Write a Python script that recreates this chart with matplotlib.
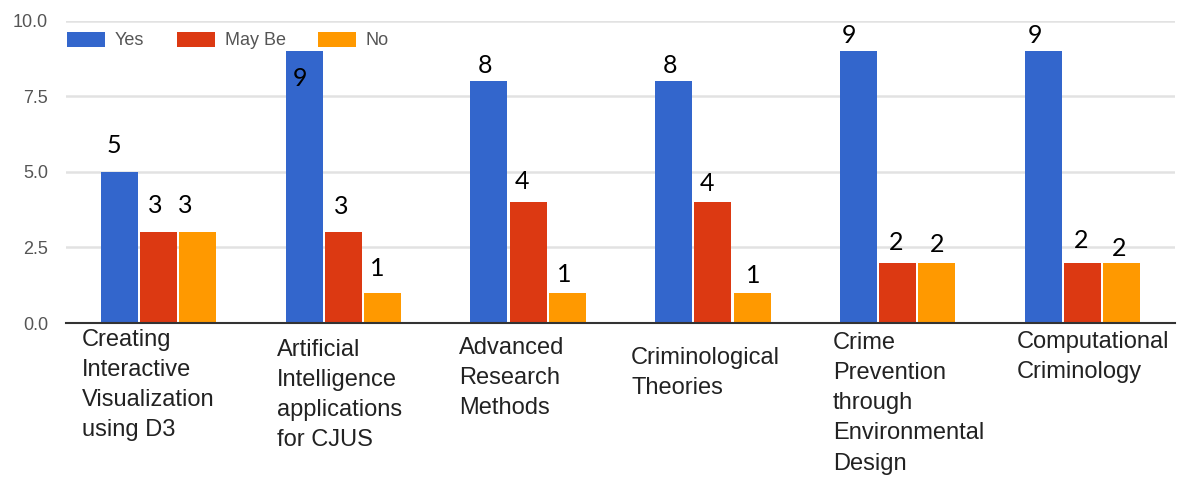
import matplotlib
matplotlib.use("Agg")
import matplotlib.pyplot as plt
import numpy as np
from matplotlib.patches import Patch

# ---- data ----
categories = [
    "Creating\nInteractive\nVisualization\nusing D3",
    "Artificial\nIntelligence\napplications\nfor CJUS",
    "Advanced\nResearch\nMethods",
    "Criminological\nTheories",
    "Crime\nPrevention\nthrough\nEnvironmental\nDesign",
    "Computational\nCriminology",
]
series_names = ["Yes", "May Be", "No"]
yes_vals = [5, 9, 8, 8, 9, 9]
maybe_vals = [3, 3, 4, 4, 2, 2]
no_vals = [3, 1, 1, 1, 2, 2]
y_ticks = [0.0, 2.5, 5.0, 7.5, 10.0]

# ---- layout / style ----
W, H, DPI = 1177, 478, 100
colors = ["#3366CC", "#DC3912", "#FF9900"]
bar_w = 0.2
bar_step = 0.212
PX2PT = 72.0 / DPI
# annotation offsets in pixels (dx, dy above bar top; negative = inside)
ann_dx = [[-5, -3, -12], [-4, -2, -5], [-4, -6, -3], [-4, -6, 1], [-10, -2, 0], [-8, -1, -3]]
ann_dy = [[19, 19, 19], [-35, 18, 17], [8, 13, 11], [8, 11, 10], [8, 12, 10], [8, 15, 7]]
# x label anchor (left px, first-line top px)
lab_x_px = [82, 277, 459, 631, 833, 1017]
lab_y_px = [329, 339, 337, 347, 332, 331]

fig = plt.figure(figsize=(W / DPI, H / DPI), dpi=DPI)
ax_l, ax_r, ax_t, ax_b = 66, 1175, 20.5, 323
ax = fig.add_axes([ax_l / W, 1 - ax_b / H, (ax_r - ax_l) / W, (ax_b - ax_t) / H])

x = np.arange(len(categories))
all_vals = [yes_vals, maybe_vals, no_vals]
for s, (vals, c, name) in enumerate(zip(all_vals, colors, series_names)):
    pos = x + (s - 1) * bar_step
    bars = ax.bar(pos, vals, width=bar_w, color=c, label=name, zorder=3)
    for i, (b, v) in enumerate(zip(bars, vals)):
        ax.annotate(str(v), (b.get_x() + b.get_width() / 2, v),
                    xytext=(ann_dx[i][s] * PX2PT, ann_dy[i][s] * PX2PT),
                    textcoords="offset points", ha="center", va="baseline",
                    fontsize=18, family="Lato", color="#000000", zorder=4)

ax.set_xlim(-0.5, len(categories) - 0.5)
ax.set_ylim(0, 10)
ax.set_yticks(y_ticks)
ax.set_yticklabels([f"{t:.1f}" for t in y_ticks])
ax.tick_params(axis="y", length=0, pad=13, labelsize=13, labelcolor="#555555")
for lab in ax.get_yticklabels():
    lab.set_family("Liberation Sans")
ax.set_xticks([])
for sp in ["top", "right", "left"]:
    ax.spines[sp].set_visible(False)
ax.spines["bottom"].set_color("#333333")
ax.spines["bottom"].set_linewidth(1.5)
ax.spines["bottom"].set_zorder(5)
ax.yaxis.grid(True, color="#e2e2e2", linewidth=1.8, zorder=0)
ax.set_axisbelow(True)

# category labels
for lbl, lx, ly in zip(categories, lab_x_px, lab_y_px):
    fig.text(lx / W, 1 - ly / H, lbl, ha="left", va="top", fontsize=17,
             family="Liberation Sans", color="#222222", linespacing=1.48)

handles = [Patch(facecolor=c, edgecolor="none") for c in colors]
leg = fig.legend(handles, series_names, loc="center left",
                 bbox_to_anchor=(67 / W, 1 - 40.5 / H), bbox_transform=fig.transFigure,
                 ncol=3, frameon=False, handlelength=2.1,
                 handleheight=0.95, handletextpad=0.55, columnspacing=1.8,
                 borderpad=0, borderaxespad=0,
                 prop={"family": "Liberation Sans", "size": 13})
for t in leg.get_texts():
    t.set_color("#555555")

fig.savefig("out.png", dpi=DPI)
